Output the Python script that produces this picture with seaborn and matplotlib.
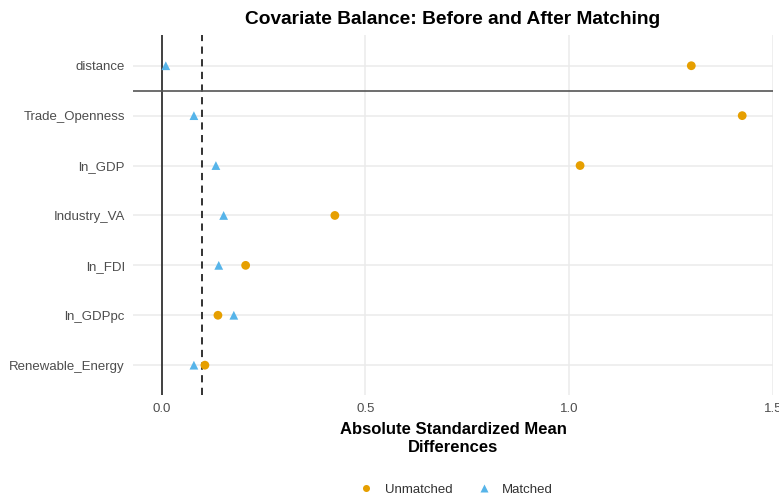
import matplotlib
matplotlib.use("Agg")
import matplotlib.pyplot as plt
import seaborn as sns
import pandas as pd

covariates = ["distance", "Trade_Openness", "ln_GDP", "Industry_VA",
              "ln_FDI", "ln_GDPpc", "Renewable_Energy"]
unmatched = [1.30, 1.425, 1.027, 0.425, 0.206, 0.138, 0.106]
matched = [0.010, 0.079, 0.133, 0.152, 0.140, 0.177, 0.079]
xticks = [0.0, 0.5, 1.0, 1.5]
threshold = 0.1

df = pd.DataFrame({
    "covariate": covariates * 2,
    "value": unmatched + matched,
    "Sample": ["Unmatched"] * len(covariates) + ["Matched"] * len(covariates),
})

sns.set_theme(style="whitegrid")
plt.rcParams["font.family"] = ["Liberation Sans", "DejaVu Sans"]

fig = plt.figure(figsize=(7.79, 4.97), dpi=100)
ax = fig.add_axes([0.171, 0.205, 0.821, 0.725])

ax.axvline(0, color="#333333", lw=1.3, zorder=1)
ax.axvline(threshold, color="#222222", lw=1.3, ls=(0, (4, 3)), zorder=1)
ax.axhline(0.5, color="#555555", lw=1.2, zorder=1)

sns.scatterplot(data=df, x="value", y="covariate", hue="Sample", style="Sample",
                hue_order=["Unmatched", "Matched"], style_order=["Unmatched", "Matched"],
                palette={"Unmatched": "#E69F00", "Matched": "#56B4E9"},
                markers={"Unmatched": "o", "Matched": "^"},
                s=40, edgecolor="none", ax=ax, zorder=3, legend=True)

ax.set_xlim(-0.07, 1.5)
ax.set_ylim(6.6, -0.62)
ax.set_xticks(xticks)
ax.set_xticklabels([f"{t:.1f}" for t in xticks])
ax.grid(True, color="#EBEBEB", lw=1.1)
for s in ax.spines.values():
    s.set_visible(False)
ax.tick_params(axis="both", length=0, labelsize=9.5, labelcolor="#4D4D4D", pad=6)
ax.set_ylabel("")
ax.set_xlabel("Absolute Standardized Mean\nDifferences", fontsize=12,
              fontweight="bold", color="black", labelpad=5, linespacing=1.2)
ax.set_title("Covariate Balance: Before and After Matching", fontsize=13.8,
             fontweight="bold", color="black", pad=8)

handles, labels = ax.get_legend_handles_labels()
ax.legend(handles, labels, loc="center", bbox_to_anchor=(0.5, -0.262), ncol=2,
          frameon=False, fontsize=9.5, markerscale=0.8, handletextpad=0.4,
          columnspacing=1.4, labelcolor="#333333")

fig.savefig("out.png", dpi=100)
